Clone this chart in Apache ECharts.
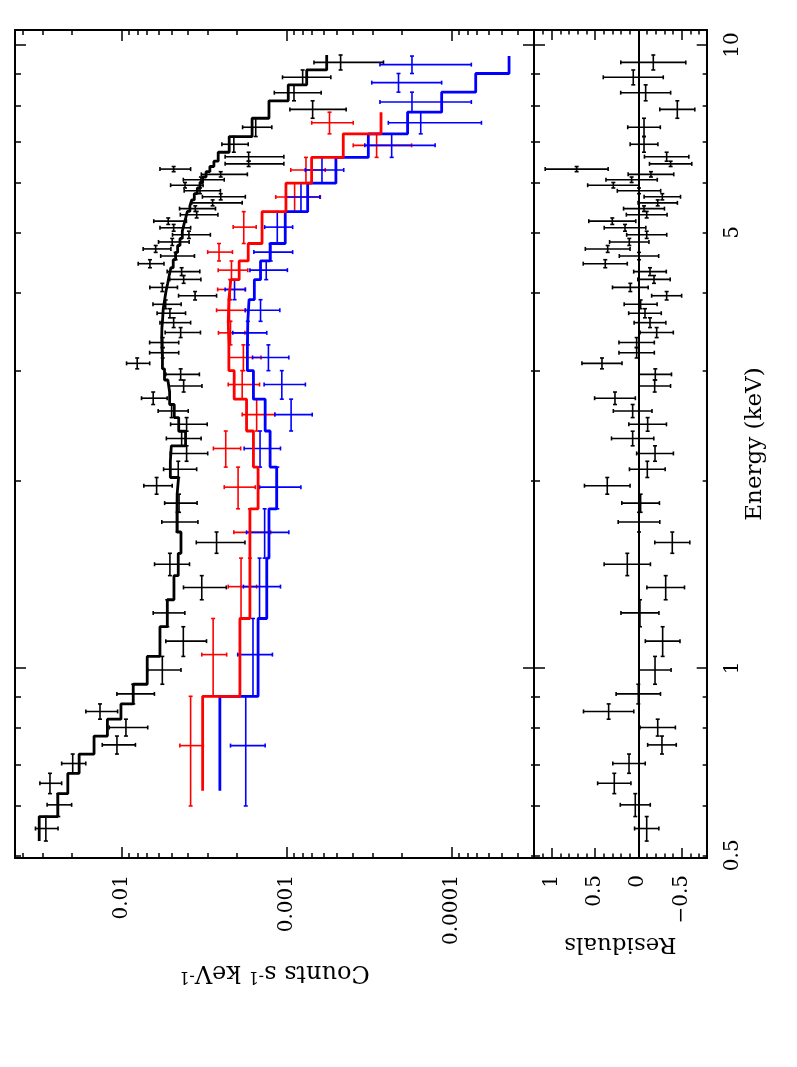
<!DOCTYPE html>
<html>
<head>
<meta charset="utf-8">
<title>Spectrum fit</title>
<script src="https://cdn.jsdelivr.net/npm/echarts@6/dist/echarts.min.js"></script>
<style>
  html, body { margin: 0; padding: 0; background: #fff; }
  #chart { width: 797px; height: 1067px; }
</style>
</head>
<body>
<div id="chart"></div>
<script>
// dataset 1 (black): bin edges in keV, rates, model and residuals
const blackEdges = [0.527, 0.577, 0.628, 0.677, 0.727, 0.777, 0.827, 0.875, 0.941, 1.043,
  1.164, 1.286, 1.406, 1.527, 1.652, 1.777, 1.900, 2.021, 2.146, 2.272,
  2.398, 2.522, 2.647, 2.772, 2.898, 3.020, 3.144, 3.267, 3.390, 3.518,
  3.647, 3.772, 3.896, 4.019, 4.143, 4.264, 4.389, 4.521, 4.645, 4.765,
  4.891, 5.024, 5.151, 5.276, 5.404, 5.517, 5.640, 5.771, 5.894, 6.015,
  6.138, 6.260, 6.381, 6.507, 6.727, 7.129, 7.627, 8.136, 8.630, 9.118, 9.637];
const blackRate = [0.0288, 0.0242, 0.0272, 0.0198, 0.01068, 0.00942, 0.01353, 0.00851, 0.00567, 0.00423,
  0.00529, 0.00327, 0.0051, 0.00266, 0.00458, 0.00449, 0.00614, 0.00454, 0.00404, 0.00433,
  0.00404, 0.00498, 0.00644, 0.00421, 0.00439, 0.00805, 0.00564, 0.00564, 0.00439, 0.00484,
  0.0051, 0.00541, 0.00359, 0.00567, 0.00421, 0.00433, 0.00674, 0.00471, 0.00622, 0.00494,
  0.00391, 0.00484, 0.00522, 0.00351, 0.00358, 0.00281, 0.00251, 0.00335, 0.00413, 0.00331,
  0.00251, 0.00484, 0.0017, 0.0017, 0.00209, 0.00154, 0.000696, 0.000903, 0.0008, 0.000471];
const blackErr = [0.0045, 0.0041, 0.0041, 0.0033, 0.00243, 0.00247, 0.00295, 0.00218, 0.0013, 0.00117,
  0.00115, 0.00095, 0.00122, 0.00087, 0.00113, 0.001, 0.0012, 0.00103, 0.00103, 0.00103,
  0.00101, 0.00103, 0.00114, 0.00095, 0.00101, 0.00129, 0.00113, 0.00113, 0.00106, 0.00102,
  0.001, 0.00105, 0.00093, 0.00108, 0.0009, 0.00097, 0.0012, 0.00109, 0.00119, 0.00104,
  0.00101, 0.00102, 0.00117, 0.0009, 0.00088, 0.00095, 0.00073, 0.00083, 0.00092, 0.00092,
  0.00078, 0.00102, 0.00066, 0.00066, 0.00038, 0.00031, 0.00026, 0.000285, 0.00026, 0.000212];
const blackModel = [0.0316, 0.0244, 0.0212, 0.0181, 0.0147, 0.0122, 0.0101, 0.00851, 0.0070, 0.00586,
  0.00529, 0.00482, 0.00454, 0.00437, 0.00462, 0.00461, 0.00452, 0.00507, 0.0050, 0.0041,
  0.00451, 0.0048, 0.00512, 0.00525, 0.0055, 0.00566, 0.0057, 0.00572, 0.0057, 0.00564,
  0.0056, 0.00549, 0.00539, 0.00526, 0.00515, 0.00503, 0.00487, 0.00471, 0.00458, 0.00443,
  0.00429, 0.00419, 0.00409, 0.0040, 0.00386, 0.00376, 0.00363, 0.00348, 0.00335, 0.00323,
  0.00308, 0.00292, 0.00276, 0.0026, 0.00223, 0.00162, 0.00128, 0.000978, 0.000756, 0.000572];
const blackResid = [-0.097, 0.035, 0.277, 0.107, -0.273, -0.224, 0.342, 0.0, -0.193, -0.281,
  -0.019, -0.316, 0.127, -0.392, -0.008, -0.027, 0.358, -0.104, -0.193, 0.065,
  -0.108, 0.065, 0.269, -0.189, -0.196, 0.419, 0.019, 0.019, -0.212, -0.135,
  -0.077, -0.027, -0.327, 0.092, -0.181, -0.135, 0.381, -0.008, 0.353, 0.104,
  -0.097, 0.153, 0.3, -0.097, -0.066, -0.224, -0.277, -0.008, 0.288, 0.077,
  -0.146, 0.711, -0.373, -0.327, -0.066, -0.066, -0.45, -0.085, 0.058, -0.173];
const blackResidErr = [0.14, 0.173, 0.192, 0.187, 0.165, 0.204, 0.29, 0.256, 0.185, 0.2,
  0.219, 0.217, 0.267, 0.202, 0.24, 0.217, 0.263, 0.206, 0.212, 0.244,
  0.217, 0.223, 0.235, 0.183, 0.187, 0.231, 0.204, 0.204, 0.192, 0.183,
  0.188, 0.19, 0.173, 0.206, 0.187, 0.188, 0.254, 0.227, 0.258, 0.227,
  0.231, 0.24, 0.271, 0.235, 0.236, 0.227, 0.21, 0.25, 0.296, 0.296,
  0.263, 0.363, 0.244, 0.256, 0.16, 0.188, 0.202, 0.288, 0.346, 0.375];

// datasets 2 (red) and 3 (blue) share one grouping
const rbEdges = [0.6, 0.9, 1.2, 1.5, 1.8, 2.1, 2.4, 2.7, 3.0, 3.3, 3.6, 3.9,
  4.2, 4.5, 4.8, 5.4, 6.0, 6.6, 7.2, 7.8, 8.4, 9.0, 9.6];
const rbModelStart = 0.635;
const redRate = [0.00382, 0.00279, 0.00189, 0.00167, 0.00197, 0.00234, 0.00152, 0.00186, 0.00183, 0.00219,
  0.00222, 0.0022, 0.00216, 0.00257, 0.00182, 0.000895, 0.000764, 0.000285, 0.00055];
const redErr = [0.00062, 0.00048, 0.00037, 0.00042, 0.00042, 0.00044, 0.00034, 0.0004, 0.0004, 0.0004,
  0.00044, 0.00042, 0.00044, 0.00044, 0.00029, 0.00027, 0.00018, 0.00011, 0.000155];
const redModel = [0.00323, 0.00192, 0.00167, 0.00167, 0.00149, 0.00159, 0.00175, 0.00208, 0.00224, 0.00226,
  0.00224, 0.00218, 0.00194, 0.00171, 0.00141, 0.00101, 0.000706, 0.000454, 0.000268];
const blueRate = [0.00177, 0.0016, 0.00146, 0.00136, 0.00114, 0.00145, 0.00094, 0.00107, 0.00129, 0.00172,
  0.00144, 0.00207, 0.00133, 0.00125, 0.00114, 0.000819, 0.000611, 0.000231, 0.000154, 0.000174,
  0.00021, 0.000174];
const blueErr = [0.00042, 0.00038, 0.00037, 0.00039, 0.00032, 0.00036, 0.00024, 0.0003, 0.00032, 0.0004,
  0.00034, 0.00029, 0.00034, 0.00033, 0.00022, 0.00019, 0.00016, 0.000105, 0.000088, 0.000098,
  0.000095, 0.000098];
const blueModel = [0.00254, 0.00149, 0.00132, 0.00128, 0.00115, 0.00126, 0.00135, 0.00159, 0.00173, 0.00172,
  0.00169, 0.00157, 0.00144, 0.00126, 0.00102, 0.000746, 0.000503, 0.00032, 0.000185, 0.000115,
  0.0000715, 0.0000449];

// axis limits and tick values
const energyRange = [0.495, 10.57];
const countRange = [3.17e-5, 0.0443];
const residRange = [-0.789, 1.203];
const energyLabels = [0.5, 1, 5, 10];
const energyMajor = [1, 10];
const energyMinor = [0.5, 0.6, 0.7, 0.8, 0.9, 2, 3, 4, 5, 6, 7, 8, 9];
const countMajor = [0.01, 0.001, 0.0001];
const countMinor = [0.04, 0.03, 0.02, 0.009, 0.008, 0.007, 0.006, 0.005, 0.004, 0.003, 0.002,
  0.0009, 0.0008, 0.0007, 0.0006, 0.0005, 0.0004, 0.0003, 0.0002,
  0.00009, 0.00008, 0.00007, 0.00006, 0.00005, 0.00004];
const residMajor = [1, 0.5, 0, -0.5];
const residMinor = [1.1, 0.9, 0.8, 0.7, 0.6, 0.4, 0.3, 0.2, 0.1, -0.1, -0.2, -0.3, -0.4, -0.6, -0.7];

const FONT = "DejaVu Serif";
const tickFont = { fontFamily: FONT, fontSize: 20, color: "#000" };

function fmtNum(v) {
  return String(+Number(v).toPrecision(3));
}
function fmtResid(v) {
  const s = String(+Number(v).toPrecision(3));
  return v < 0 ? "\u2212" + s.slice(1) : s;
}

function binItems(edges, vals, errs) {
  return vals.map((v, i) => [edges[i], edges[i + 1], v, errs[i]]);
}

function stepPoints(edges, vals) {
  const pts = [];
  vals.forEach((v, i) => {
    pts.push([v, edges[i]], [v, edges[i + 1]]);
  });
  return pts;
}

// cross-shaped error bar: value bar across, energy bin along the energy axis
function crossRenderer(color) {
  return function (params, api) {
    const lo = api.value(0);
    const hi = api.value(1);
    const v = api.value(2);
    const dv = api.value(3);
    const mid = (lo + hi) / 2;
    const a = api.coord([v + dv, mid]);
    const b = api.coord([v - dv, mid]);
    const c = api.coord([v, lo]);
    const d = api.coord([v, hi]);
    const cap = 2;
    const style = { stroke: color, lineWidth: 1.6 };
    const seg = (x1, y1, x2, y2) => ({ type: "line", shape: { x1, y1, x2, y2 }, style });
    return {
      type: "group",
      children: [
        seg(a[0], a[1], b[0], b[1]),
        seg(a[0], a[1] - cap, a[0], a[1] + cap),
        seg(b[0], b[1] - cap, b[0], b[1] + cap),
        seg(c[0], c[1], d[0], d[1]),
        seg(c[0] - cap, c[1], c[0] + cap, c[1]),
        seg(d[0] - cap, d[1], d[0] + cap, d[1]),
      ],
    };
  };
}

function axis(type, grid, pos, range, inverse, ticks, len, extra) {
  return Object.assign({
    type: type,
    gridIndex: grid,
    position: pos,
    inverse: inverse,
    min: range[0],
    max: range[1],
    silent: true,
    axisLine: { show: true, onZero: false, lineStyle: { color: "#000", width: 2 } },
    axisTick: { show: true, inside: true, length: len, customValues: ticks,
      lineStyle: { color: "#000", width: 1.5 } },
    axisLabel: { show: false },
    splitLine: { show: false },
    minorTick: { show: false },
    minorSplitLine: { show: false },
  }, extra || {});
}

function errSeries(items, color, xi, yi) {
  return {
    type: "custom",
    xAxisIndex: xi,
    yAxisIndex: yi,
    encode: { x: [2], y: [0, 1] },
    renderItem: crossRenderer(color),
    data: items,
    silent: true,
    z: 3,
  };
}

function modelSeries(points, color) {
  return {
    type: "line",
    xAxisIndex: 0,
    yAxisIndex: 0,
    data: points,
    symbol: "none",
    showSymbol: false,
    silent: true,
    lineStyle: { color: color, width: 2.8 },
    z: 4,
  };
}

const rbModelEdges = [rbModelStart].concat(rbEdges.slice(1));

const chart = echarts.init(document.getElementById("chart"));
chart.setOption({
  animation: false,
  backgroundColor: "#fff",
  grid: [
    { left: 15, top: 30, width: 519, height: 828, outerBoundsMode: "none" },
    { left: 534, top: 30, width: 172.7, height: 828, outerBoundsMode: "none" },
  ],
  xAxis: [
    axis("log", 0, "bottom", countRange, true, countMajor, 11, {
      axisLabel: Object.assign({ show: true, customValues: countMajor, rotate: 90, margin: 17,
        formatter: fmtNum }, tickFont),
      name: "{t|Counts s}{u|-1}{t| keV}{u|-1}",
      nameLocation: "middle",
      nameRotate: 180,
      nameGap: 102,
      nameTextStyle: {
        fontFamily: FONT, fontSize: 24, color: "#000",
        rich: {
          t: { fontFamily: FONT, fontSize: 24, color: "#000" },
          u: { fontFamily: FONT, fontSize: 16, color: "#000", verticalAlign: "top" },
        },
      },
    }),
    axis("log", 0, "bottom", countRange, true, countMinor, 5),
    axis("log", 0, "top", countRange, true, countMajor, 11),
    axis("log", 0, "top", countRange, true, countMinor, 5),
    axis("value", 1, "bottom", residRange, true, residMajor, 10, {
      axisLabel: Object.assign({ show: true, customValues: residMajor, rotate: 90, margin: 17,
        formatter: fmtResid }, tickFont),
      name: "Residuals",
      nameLocation: "middle",
      nameRotate: 180,
      nameGap: 74,
      nameTextStyle: { fontFamily: FONT, fontSize: 23, color: "#000" },
    }),
    axis("value", 1, "bottom", residRange, true, residMinor, 4.5),
    axis("value", 1, "top", residRange, true, residMajor, 10),
    axis("value", 1, "top", residRange, true, residMinor, 4.5),
  ],
  yAxis: [
    axis("log", 0, "left", energyRange, false, energyMajor, 11),
    axis("log", 0, "left", energyRange, false, energyMinor, 6),
    axis("log", 0, "right", energyRange, false, energyMajor, 11),
    axis("log", 0, "right", energyRange, false, energyMinor, 3),
    axis("log", 1, "left", energyRange, false, energyMajor, 11),
    axis("log", 1, "left", energyRange, false, energyMinor, 6),
    axis("log", 1, "right", energyRange, false, energyMajor, 10, {
      axisLabel: Object.assign({ show: true, customValues: energyLabels, rotate: 90, margin: 16,
        formatter: fmtNum }, tickFont),
      name: "Energy (keV)",
      nameLocation: "middle",
      nameRotate: 90,
      nameGap: 36,
      nameTextStyle: { fontFamily: FONT, fontSize: 23, color: "#000" },
    }),
    axis("log", 1, "right", energyRange, false, energyMinor, 4),
  ],
  series: [
    errSeries(binItems(blackEdges, blackRate, blackErr), "#000", 0, 0),
    errSeries(binItems(rbEdges, redRate, redErr), "#ff0000", 0, 0),
    errSeries(binItems(rbEdges, blueRate, blueErr), "#0000ff", 0, 0),
    modelSeries(stepPoints(blackEdges, blackModel), "#000"),
    modelSeries(stepPoints(rbModelEdges, blueModel), "#0000ff"),
    modelSeries(stepPoints(rbModelEdges, redModel), "#ff0000"),
    Object.assign(errSeries(binItems(blackEdges, blackResid, blackResidErr), "#000", 4, 4), {
      markLine: {
        silent: true,
        symbol: "none",
        label: { show: false },
        lineStyle: { color: "#000", width: 2, type: "solid" },
        data: [{ xAxis: 0 }],
      },
    }),
  ],
});
</script>
</body>
</html>
